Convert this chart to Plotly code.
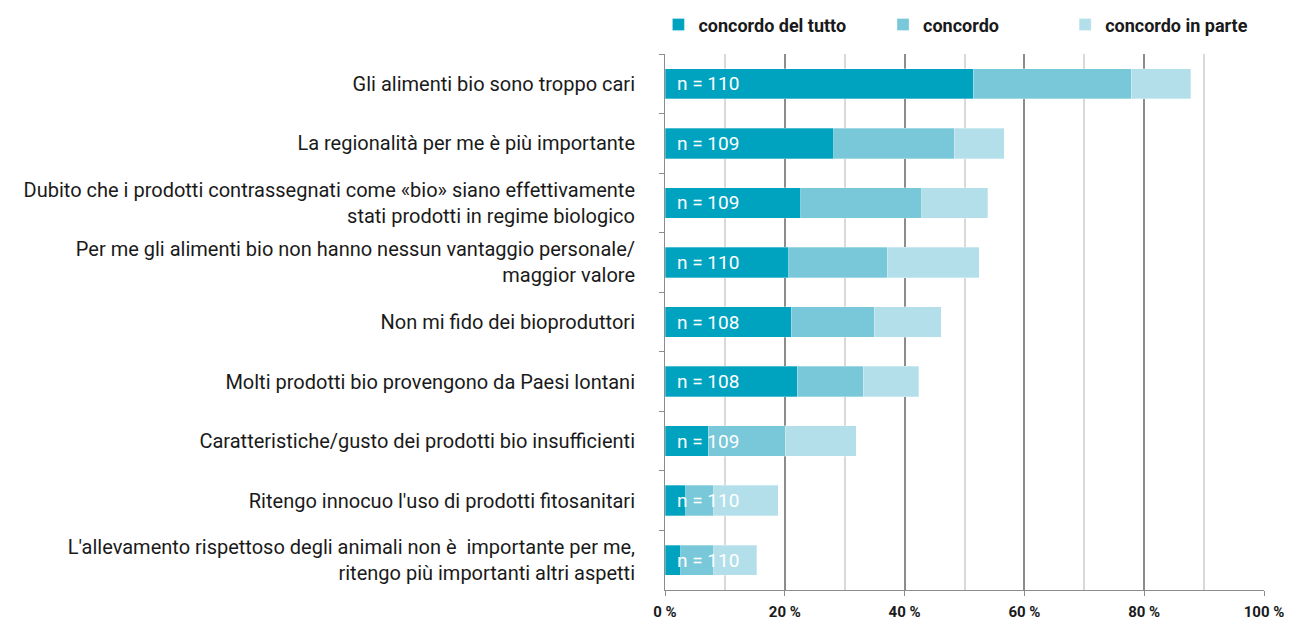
import plotly.graph_objects as go

categorie = [
    'Gli alimenti bio sono troppo cari',
    'La regionalità per me è più importante',
    'Dubito che i prodotti contrassegnati come «bio» siano effettivamente<br>stati prodotti in regime biologico',
    'Per me gli alimenti bio non hanno nessun vantaggio personale/<br>maggior valore',
    'Non mi fido dei bioproduttori',
    'Molti prodotti bio provengono da Paesi lontani',
    'Caratteristiche/gusto dei prodotti bio insufficienti',
    "Ritengo innocuo l'uso di prodotti fitosanitari",
    "L'allevamento rispettoso degli animali non è  importante per me,<br>ritengo più importanti altri aspetti",
]

del_tutto = [51.5, 28.2, 22.7, 20.7, 21.1, 22.1, 7.2, 3.5, 2.6]
concordo = [26.3, 20.1, 20.2, 16.4, 13.8, 11.0, 12.9, 4.6, 5.5]
in_parte = [10.0, 8.3, 11.0, 15.4, 11.2, 9.3, 11.8, 10.8, 7.2]
n_risposte = [110, 109, 109, 110, 108, 108, 109, 110, 110]

serie = [
    ('concordo del tutto', del_tutto, '#00A3BF', 'legend'),
    ('concordo', concordo, '#78C8D9', 'legend2'),
    ('concordo in parte', in_parte, '#B2DFEA', 'legend3'),
]

fig = go.Figure()

for nome, valori, colore, leg in serie:
    fig.add_trace(go.Bar(
        y=categorie,
        x=valori,
        name=nome,
        orientation='h',
        marker=dict(color=colore, line=dict(color='rgba(255,255,255,0.6)', width=0.5)),
        legend=leg,
        hoverinfo='skip',
    ))

for cat, n in zip(categorie, n_risposte):
    fig.add_annotation(
        x=0, y=cat, xref='x', yref='y',
        text=f'n = {n}',
        showarrow=False, xanchor='left', xshift=10,
        font=dict(family='Roboto', size=19, color='white'),
    )

legenda = dict(orientation='h', yref='container', yanchor='middle', y=0.96, xanchor='left',
               font=dict(family='Roboto', size=18, color='#1a1a1a', weight='bold'),
               bgcolor='rgba(0,0,0,0)')

fig.update_layout(
    width=1298,
    height=621,
    barmode='stack',
    bargap=0.49,
    showlegend=True,
    margin=dict(l=665, r=34, t=54, b=31),
    paper_bgcolor='white',
    plot_bgcolor='white',
    font=dict(family='Roboto', size=20, color='#1a1a1a'),
    legend=dict(legenda, x=-0.011),
    legend2=dict(legenda, x=0.364),
    legend3=dict(legenda, x=0.668),
)

fig.update_xaxes(
    range=[0, 100],
    automargin=False,
    tickvals=[0, 20, 40, 60, 80, 100],
    ticktext=['0 %', '20 %', '40 %', '60 %', '80 %', '100 %'],
    tickfont=dict(family='Roboto', size=15, color='#1a1a1a', weight='bold'),
    ticks='outside', ticklen=5, tickcolor='#8c8c8c', tickwidth=1,
    ticklabelstandoff=3,
    showline=True, linecolor='#8c8c8c', linewidth=1,
    showgrid=True, gridcolor='#8c8c8c', gridwidth=2,
    minor=dict(dtick=10, showgrid=True, gridcolor='#d9d9d9', gridwidth=2),
    zeroline=False,
)
fig.update_yaxes(
    autorange='reversed',
    type='category',
    automargin=False,
    tickson='boundaries',
    ticks='outside', ticklen=5, tickcolor='#8c8c8c',
    ticklabelstandoff=25,
    showline=True, linecolor='#8c8c8c', linewidth=1,
    showgrid=False,
)

fig.write_html('out.html', config={'displayModeBar': False},
               post_script="document.body.style.margin='0';")
